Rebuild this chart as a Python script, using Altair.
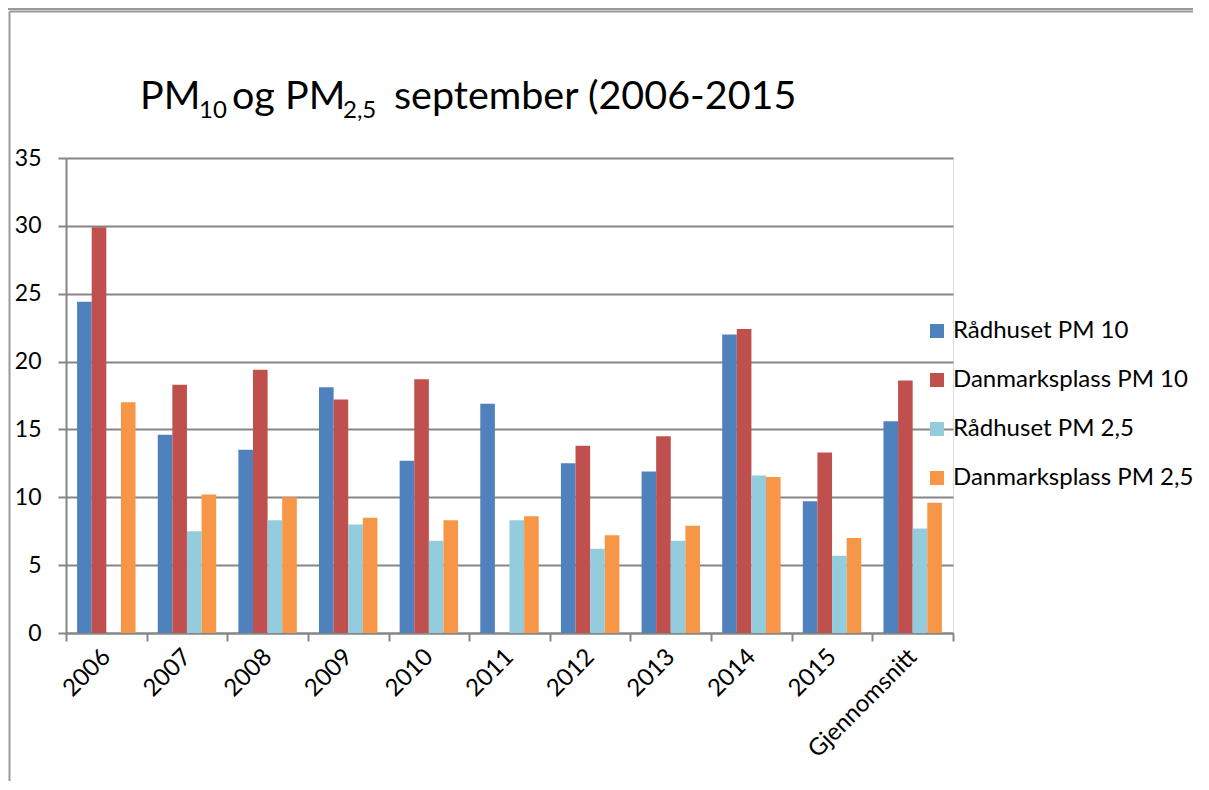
import altair as alt
import pandas as pd

categories = ["2006", "2007", "2008", "2009", "2010", "2011", "2012", "2013", "2014", "2015", "Gjennomsnitt"]
series = ["Rådhuset PM 10", "Danmarksplass PM 10", "Rådhuset PM 2,5", "Danmarksplass PM 2,5"]
raadhuset_pm10 = [24.4, 14.6, 13.5, 18.1, 12.7, 16.9, 12.5, 11.9, 22.0, 9.7, 15.6]
danmarksplass_pm10 = [29.9, 18.3, 19.4, 17.2, 18.7, None, 13.8, 14.5, 22.4, 13.3, 18.6]
raadhuset_pm25 = [None, 7.5, 8.3, 8.0, 6.8, 8.3, 6.2, 6.8, 11.6, 5.7, 7.7]
danmarksplass_pm25 = [17.0, 10.2, 10.0, 8.5, 8.3, 8.6, 7.2, 7.9, 11.5, 7.0, 9.6]
colors = ["#4F81BD", "#C0504D", "#93CDDD", "#F79646"]
y_ticks = [0, 5, 10, 15, 20, 25, 30, 35]
# title "PM10 og PM2,5  september (2006-2015" split into normal / subscript pieces
title_pieces = ["PM", "10", "og PM", "2,5", "september (2006-2015"]
title_is_sub = [False, True, False, True, False]

rows = []
for s, vals in zip(series, [raadhuset_pm10, danmarksplass_pm10, raadhuset_pm25, danmarksplass_pm25]):
    for c, v in zip(categories, vals):
        if v is not None:
            rows.append({"kategori": c, "serie": s, "verdi": v})
df = pd.DataFrame(rows)

FONT = "Lato"
W, H = 887, 475
PAD_L, PAD_T, PAD_R, PAD_B = 58, 150, 240, 148

bars = alt.Chart(df).mark_bar().encode(
    x=alt.X("kategori:N", sort=categories,
            scale=alt.Scale(domain=categories, paddingInner=0, paddingOuter=0),
            axis=alt.Axis(title=None, labelAngle=-45, labelAlign="right", labelBaseline="middle",
                          labelFont=FONT, labelFontSize=24, labelColor="#000000",
                          labelPadding=12, tickBand="extent", ticks=True, tickSize=8,
                          tickColor="#868686", tickWidth=2, domainColor="#868686",
                          domainWidth=2, grid=False, labelLimit=300)),
    xOffset=alt.XOffset("serie:N", sort=series,
                        scale=alt.Scale(domain=series, paddingInner=0, paddingOuter=0.76)),
    y=alt.Y("verdi:Q", scale=alt.Scale(domain=[0, 35], nice=False),
            axis=alt.Axis(title=None, values=y_ticks, labelFont=FONT, labelFontSize=23,
                          labelColor="#000000", labelPadding=17, tickSize=8,
                          tickColor="#868686", tickWidth=2, domainColor="#868686",
                          domainWidth=2, grid=True, gridColor="#868686", gridWidth=2)),
    color=alt.Color("serie:N", sort=series,
                    scale=alt.Scale(domain=series, range=colors),
                    legend=alt.Legend(title=None, orient="none", legendX=859, legendY=161,
                                      symbolType="square", symbolSize=196, symbolStrokeWidth=0,
                                      labelFont=FONT, labelFontSize=24, labelColor="#000000",
                                      labelOffset=4, rowPadding=25, padding=0, labelLimit=400)),
)

frame_data = alt.Data(values=[{"a": 1}])
left_line = alt.Chart(frame_data).mark_rule(color="#9A9A9A", strokeWidth=2).encode(
    x=alt.value(-56.5), y=alt.value(-146.5), y2=alt.value(H + PAD_B))
top_line1 = alt.Chart(frame_data).mark_rule(color="#9A9A9A", strokeWidth=2).encode(
    x=alt.value(-58), x2=alt.value(W + PAD_R), y=alt.value(-149))
top_line2 = alt.Chart(frame_data).mark_rule(color="#9A9A9A", strokeWidth=2).encode(
    x=alt.value(-56.5), x2=alt.value(W + PAD_R), y=alt.value(-146.5))

# title pieces placement (layout only)
piece_x = [74, 133, 166, 277, 328]
layers = [bars, left_line, top_line1, top_line2]
for txt, sub, px in zip(title_pieces, title_is_sub, piece_x):
    layers.append(
        alt.Chart(frame_data).mark_text(
            font=FONT, fontSize=24 if sub else 39.5, align="left", baseline="alphabetic",
            color="#000000"
        ).encode(x=alt.value(px), y=alt.value(-40 if sub else -49), text=alt.value(txt))
    )

chart = alt.layer(*layers).properties(
    width=W, height=H,
    autosize=alt.AutoSizeParams(type="none"),
    padding={"left": PAD_L, "top": PAD_T, "right": PAD_R, "bottom": PAD_B},
).configure_view(stroke=None).configure(background="white")

chart.save("out.html", embed_options={"renderer": "svg", "actions": False})
